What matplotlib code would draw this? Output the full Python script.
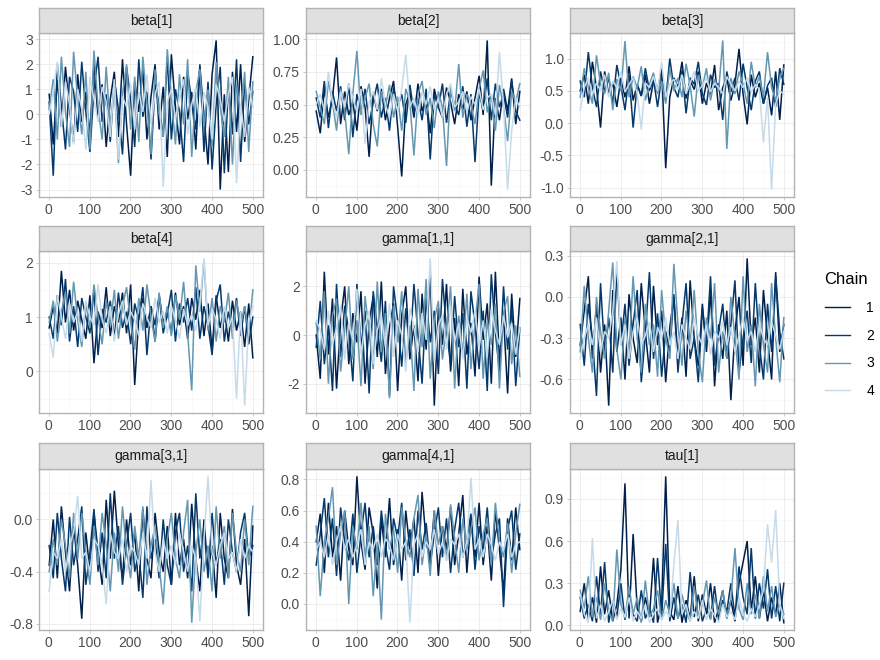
import matplotlib.pyplot as plt
from matplotlib.lines import Line2D
import numpy as np

plt.rcParams['font.family'] = ['Liberation Sans', 'DejaVu Sans']
plt.rcParams['axes.unicode_minus'] = False

# chain colours (1 = darkest ... 4 = lightest)
chain_names = ['1', '2', '3', '4']
chain_colors = ['#011f4b', '#03396c', '#6497b1', '#c6dbea']

# traces, one value about every 10 iterations
beta1 = [
    [0.8, -1.2, 1.4, -0.5, 1.9, 0.2, -1.1, 1.6, -0.3, 0.9, -0.8, 2.1, -0.2, 1.2, -1.3, 0.6, 1.7, -0.9, 2.2, -0.4, -2.45, 1.3, 0.1, 1.8, -1.0, 0.7, 2.0, -0.6, 1.1, -1.7, 2.4, 0.3, -1.2, 1.5, -0.2, 0.9, -1.4, 1.9, 0.0, -2.0, 1.6, 2.95, -3.0, 0.8, -2.3, 1.7, -0.7, 2.0, -1.1, 0.6, 2.3],
    [0.5, -2.45, 2.0, 0.3, -1.4, 1.5, 0.9, -0.7, 2.1, 0.1, -1.5, 1.0, 2.3, -0.3, 0.8, -1.1, 1.4, 0.2, -1.6, 1.9, 0.6, -1.3, 2.2, -0.1, 0.9, -1.8, 1.2, 0.4, -0.9, 2.3, -1.0, 1.0, 0.1, -1.9, 1.7, 0.5, -0.6, 2.0, -1.5, 1.3, -2.2, 0.4, 1.9, -2.35, 1.1, -0.8, 2.2, -1.9, 1.3, -0.4, 0.9],
    [0.2, 1.4, -1.0, 2.3, 0.1, -1.3, 2.5, 0.6, -0.8, 1.7, -1.4, 2.55, 0.3, -1.0, 1.9, -0.5, 1.2, -1.95, 0.8, 2.0, -0.6, 1.5, -1.1, 2.3, 0.4, -1.6, 1.8, 0.0, -0.9, 2.6, 0.7, -1.2, 1.6, -0.4, 2.2, -1.7, 0.9, 1.8, -0.5, 1.0, -1.3, 2.1, 0.3, -0.9, 1.5, -2.0, 1.2, 0.0, 1.7, -1.5, 1.3],
    [0.0, 0.9, 2.1, -0.5, 1.3, 0.4, -1.2, 1.0, 0.2, -1.4, 1.5, 0.6, -0.3, 1.1, 0.5, -0.9, 1.4, -1.8, 0.7, 0.3, 1.2, -0.6, 0.9, 0.1, 1.6, -0.4, 0.8, 1.3, -2.9, 0.5, 1.0, -0.2, 0.7, 1.4, -0.8, 0.4, 1.1, -0.5, 0.9, 0.3, -1.0, 1.2, 0.6, -0.3, 0.8, 1.5, -2.75, 0.4, -0.9, 1.1, 0.3],
]
beta2 = [
    [0.45, 0.28, 0.62, 0.40, 0.55, 0.86, 0.35, 0.60, 0.42, 0.52, 0.30, 0.64, 0.48, 0.10, 0.58, 0.45, 0.62, 0.38, 0.55, 0.68, 0.33, -0.05, 0.50, 0.60, 0.40, 0.66, 0.45, 0.55, 0.28, 0.62, 0.48, 0.40, 0.63, 0.52, 0.35, 0.58, 0.46, 0.60, 0.38, 0.55, 0.72, 0.42, 0.99, -0.12, 0.55, 0.38, 0.62, 0.45, 0.70, 0.35, 0.60],
    [0.55, 0.40, 0.68, 0.32, 0.60, 0.45, 0.64, 0.38, 0.66, 0.25, 0.58, 0.44, 0.62, 0.35, 0.52, 0.66, 0.40, 0.55, 0.30, 0.63, 0.48, 0.58, 0.36, 0.65, 0.44, 0.55, 0.38, 0.62, 0.08, 0.58, 0.47, 0.66, 0.36, 0.60, 0.50, 0.42, 0.64, 0.33, 0.58, 0.06, 0.60, 0.45, 0.70, 0.38, 0.66, 0.48, 0.58, 0.40, 0.68, 0.45, 0.38],
    [0.60, 0.48, 0.35, 0.68, 0.52, 0.30, 0.62, 0.45, 0.12, 0.58, 0.91, 0.42, 0.55, 0.66, 0.35, 0.18, 0.60, 0.48, 0.65, 0.40, 0.56, 0.30, 0.62, 0.52, 0.11, 0.58, 0.68, 0.42, 0.55, 0.32, 0.60, 0.48, 0.03, 0.64, 0.45, 0.81, 0.40, 0.58, 0.50, 0.35, 0.62, 0.76, 0.44, 0.58, 0.30, 0.65, 0.48, 0.22, 0.60, 0.52, 0.66],
    [0.50, 0.58, 0.45, 0.75, 0.52, 0.40, 0.60, 0.48, 0.66, 0.55, 0.44, 0.62, 0.20, 0.52, 0.60, 0.46, 0.70, 0.50, 0.40, 0.58, 0.45, 0.62, 0.88, 0.48, 0.55, 0.42, 0.60, 0.50, 0.64, 0.46, 0.55, 0.40, 0.58, 0.66, 0.48, 0.52, 0.60, 0.44, 0.56, 0.50, 0.62, 0.46, 0.55, 0.58, 0.42, 0.90, 0.50, -0.15, 0.30, 0.55, 0.48],
]
beta3 = [
    [0.50, 0.75, 0.30, 0.95, 0.55, -0.07, 0.80, 0.45, 0.62, 0.25, 0.70, 0.40, 0.88, 0.35, 0.60, 0.42, 0.75, 0.30, 0.65, 0.50, 0.85, -0.70, 0.40, 0.70, 0.55, 0.95, 0.38, 0.66, 0.52, 0.80, 0.30, 0.62, 0.45, 0.90, 0.20, 0.55, 0.70, 0.35, 0.60, 1.15, 0.45, -0.02, 0.75, 0.40, 0.62, 0.30, 0.55, 0.12, 0.80, 0.05, 0.90],
    [0.65, 0.40, 1.10, 0.55, 0.25, 0.80, 0.48, 0.70, 0.30, 0.90, 0.58, 0.20, 0.75, -0.07, 0.60, 0.42, 0.85, 0.50, 0.68, 0.25, 0.72, 0.35, 1.00, 0.55, 0.40, 0.82, 0.15, 0.70, 0.60, 0.95, 0.45, 0.28, 0.75, 0.55, 0.62, 0.05, 0.80, 0.48, 0.70, 0.35, 0.92, 0.55, 0.20, 0.65, 0.80, 0.30, 0.58, 0.70, 0.25, 0.85, 0.60],
    [0.40, 0.85, 0.55, 0.30, 1.05, 0.60, 0.45, 0.78, 0.20, 0.68, 0.50, 1.27, 0.40, 0.72, 0.55, 0.88, 0.35, 0.60, 0.78, 0.45, 0.65, 0.30, 0.85, 0.50, 0.70, 0.40, 0.92, 0.58, 0.10, 0.75, 0.55, 0.85, 0.35, 0.68, 0.50, 1.28, -0.40, 0.70, 0.45, 0.80, 0.60, 0.30, 0.95, 0.55, 0.72, 0.40, 1.10, 0.55, 0.35, 0.70, 0.85],
    [0.20, 0.55, 0.70, 0.45, 0.62, 0.50, 0.75, 0.40, 0.65, 0.55, 0.80, 0.48, 0.60, 0.70, 0.45, -0.10, 0.62, 0.55, 0.72, 0.50, 0.95, 0.40, 0.60, 0.68, 0.52, 0.75, 0.45, 0.62, 0.80, 0.50, 0.58, 0.70, 0.48, 0.62, 0.55, 0.45, 0.72, 0.60, 0.50, 0.65, 0.55, 0.70, 0.48, 0.60, 0.52, -0.30, 0.40, -1.03, 0.30, 0.50, 0.45],
]
beta4 = [
    [0.80, 1.20, 0.70, 1.85, 0.90, 1.50, 0.75, 1.30, 0.95, 0.60, 1.40, 0.15, 1.10, 0.80, 1.55, 0.65, 1.20, 0.90, 1.45, 0.70, 1.60, -0.25, 1.00, 1.35, 0.80, 1.20, 0.55, 1.40, 0.90, 1.10, 0.70, 1.45, 0.85, 1.20, 0.60, 1.35, 0.95, 1.50, 0.65, 1.25, 0.40, 1.40, 0.80, 1.15, 0.55, 1.30, 0.75, 1.10, 0.45, 1.25, 0.25],
    [1.00, 0.60, 1.40, 0.85, 1.70, 0.55, 1.20, 0.45, 1.35, 1.00, 0.70, 1.50, 0.30, 1.15, 0.90, 1.30, 0.60, 1.45, 0.80, 1.10, 0.50, 1.25, 0.95, 1.55, 0.30, 1.20, 0.85, 1.40, 0.70, 1.05, 1.50, 0.55, 1.25, 0.90, 1.35, 0.75, 1.55, 0.60, 1.20, 0.85, 0.30, 1.30, 1.60, 0.55, 1.10, 0.80, 1.35, 0.65, 1.20, 0.50, 1.00],
    [0.90, 1.30, 0.55, 1.10, 1.45, 0.70, 1.65, 0.95, 0.45, 1.25, 0.80, 1.60, 1.00, 0.50, 1.30, 0.85, 1.50, 0.60, 1.20, 1.55, 0.90, 0.40, 1.35, 0.75, 1.60, 1.00, 0.55, 1.45, 0.80, 1.20, 0.65, 1.40, 0.95, 1.65, 0.70, -0.35, 1.95, 1.10, 2.05, 0.75, 1.35, 0.55, 1.20, 0.90, 1.45, 0.60, 1.30, 0.85, 1.20, 0.70, 1.50],
    [0.70, 0.25, 1.40, 1.00, 0.60, 1.25, 0.90, 1.10, 0.55, 1.30, 1.00, 0.85, 1.60, 0.95, 0.70, 1.20, 0.55, 1.05, 1.30, 0.85, 1.10, 0.95, 0.65, 1.25, 1.00, 0.80, 1.35, 0.90, 1.10, 0.70, 1.20, 0.95, 0.60, 1.15, 0.85, 1.05, 0.75, 1.25, 2.08, 0.85, 1.15, 0.95, 0.60, 1.20, 0.80, 1.00, -0.50, 1.10, -0.63, 0.90, 1.20],
]
gamma11 = [
    [0.0, -1.8, 2.6, -0.8, 1.5, -2.2, 0.6, 2.0, -1.2, 0.9, -0.3, 1.8, -2.0, 0.5, 1.6, -0.9, 2.2, -1.6, 0.3, 1.3, -2.3, 0.8, 2.0, -1.0, 0.4, -1.9, 1.7, -0.6, 2.7, -2.9, 1.1, -0.4, 2.1, -1.5, 0.7, -2.1, 1.9, -0.8, 0.5, -1.7, 2.4, -0.2, 1.3, -2.0, 2.6, -1.1, 0.8, -2.4, 1.7, -0.9, 1.5],
    [-0.5, 1.4, -1.2, 0.4, -2.3, 2.1, -0.9, 1.2, 0.2, -1.9, 2.1, -0.5, 1.0, -2.4, 1.8, 0.3, -1.1, 1.4, -2.5, 2.0, 0.6, -1.3, 1.1, -0.7, 2.1, 0.0, -2.0, 1.5, -0.3, 1.0, -1.6, 2.3, 0.2, -1.2, 1.6, -0.5, 0.9, -2.2, 1.8, 0.4, -1.4, 1.0, -2.3, 2.5, 0.1, -1.5, 2.0, -0.6, 1.1, -2.1, 0.3],
    [0.5, -1.0, 1.8, -2.0, 0.8, 1.5, -1.5, 0.2, 2.0, -1.0, 0.6, -2.1, 1.6, 0.1, -1.4, 2.2, -0.7, 0.9, -2.6, 1.2, -0.3, 1.8, -1.2, 0.4, -2.3, 1.9, -0.5, 2.3, -1.8, 0.6, 1.4, -1.0, 0.3, 2.0, -2.2, 0.8, -0.8, 1.7, -1.4, 0.5, 2.1, -1.8, 0.6, -0.4, 1.3, -2.2, 0.9, 1.6, -1.2, 0.4, -1.7],
    [0.6, 0.2, -0.6, 1.0, -0.4, 0.3, 1.2, -1.0, 0.5, -0.2, 1.9, -0.8, 0.4, 1.0, -1.2, 0.2, 0.8, -0.5, 1.3, -0.9, 0.6, 0.0, -1.5, 1.1, 0.3, -0.7, 0.9, -0.2, 3.15, -1.1, 0.4, 0.8, -0.6, 1.2, -0.3, 0.5, -1.0, 0.7, 0.1, 1.0, -0.5, 0.6, -0.9, 1.1, 0.2, -0.4, 0.8, -0.1, 0.5, -0.8, 0.3],
]
gamma21 = [
    [-0.35, -0.10, 0.15, -0.45, -0.05, -0.55, -0.20, -0.79, 0.05, -0.40, -0.15, -0.60, 0.02, -0.30, -0.48, 0.10, -0.25, -0.55, 0.08, -0.35, -0.10, -0.62, -0.22, 0.00, -0.45, -0.15, -0.58, 0.12, -0.30, -0.50, -0.05, -0.40, 0.05, -0.65, -0.20, -0.45, -0.10, -0.75, -0.25, 0.00, -0.50, 0.28, -0.35, -0.15, -0.55, 0.05, -0.30, -0.60, 0.18, -0.40, -0.20],
    [-0.20, -0.50, -0.05, -0.30, -0.72, 0.10, -0.40, -0.15, -0.55, 0.20, -0.35, -0.05, -0.50, -0.20, 0.05, -0.62, -0.28, 0.18, -0.45, -0.12, -0.58, -0.25, -0.40, 0.02, -0.55, -0.20, 0.10, -0.45, -0.30, -0.62, -0.08, -0.35, 0.15, -0.50, -0.25, -0.05, -0.45, -0.20, 0.12, -0.55, -0.30, -0.10, -0.48, 0.10, -0.35, -0.60, -0.05, -0.40, 0.15, -0.25, -0.45],
    [-0.40, 0.08, -0.30, -0.55, 0.00, -0.25, -0.45, -0.10, 0.25, -0.38, -0.60, -0.15, -0.42, 0.15, -0.30, -0.55, -0.05, -0.35, -0.20, -0.58, 0.05, -0.30, -0.45, 0.24, -0.20, -0.50, -0.10, -0.35, 0.05, -0.40, -0.62, -0.15, -0.30, 0.10, -0.55, -0.25, -0.45, 0.00, -0.30, -0.60, 0.15, -0.40, -0.20, -0.65, -0.05, -0.35, -0.55, 0.10, -0.30, -0.62, -0.15],
    [-0.45, -0.30, -0.20, -0.35, -0.15, -0.40, -0.25, -0.30, -0.10, 0.26, -0.35, -0.20, -0.45, -0.25, -0.15, -0.35, -0.28, -0.18, -0.40, -0.22, -0.30, -0.15, -0.35, -0.25, -0.45, -0.20, -0.30, -0.38, -0.15, -0.28, -0.35, -0.20, -0.42, -0.25, -0.30, -0.18, -0.35, -0.22, -0.40, -0.28, -0.15, -0.32, -0.25, -0.40, -0.20, -0.30, -0.35, -0.18, -0.28, -0.38, -0.25],
]
gamma31 = [
    [-0.35, 0.00, -0.45, 0.10, -0.25, -0.55, -0.05, -0.35, -0.76, -0.10, -0.40, 0.05, -0.25, -0.50, 0.15, -0.30, 0.22, -0.20, -0.45, 0.00, -0.35, -0.10, -0.55, 0.08, -0.30, -0.45, 0.05, -0.25, -0.40, -0.05, -0.50, 0.05, -0.35, -0.15, -0.45, 0.12, -0.30, -0.55, 0.00, -0.40, -0.20, -0.60, 0.05, -0.30, -0.45, 0.08, -0.35, -0.50, -0.15, -0.74, -0.05],
    [-0.20, -0.45, 0.05, -0.30, -0.55, 0.02, -0.35, -0.15, 0.10, -0.50, -0.25, 0.08, -0.40, -0.10, -0.45, 0.20, -0.30, -0.05, -0.50, -0.20, 0.05, -0.40, -0.25, -0.60, 0.10, -0.30, -0.15, -0.45, 0.00, -0.35, -0.50, -0.10, 0.05, -0.40, -0.20, -0.55, 0.20, -0.30, -0.05, -0.45, 0.05, -0.35, -0.15, -0.50, 0.00, -0.25, -0.40, -0.10, 0.05, -0.30, -0.20],
    [-0.40, -0.15, -0.35, 0.00, -0.20, -0.45, 0.05, -0.30, 0.05, -0.25, -0.50, -0.05, -0.35, 0.05, -0.20, -0.55, -0.10, -0.40, 0.10, -0.25, -0.45, -0.05, -0.30, 0.10, -0.50, -0.20, -0.05, -0.35, -0.65, -0.15, 0.05, -0.30, -0.45, -0.10, 0.15, -0.79, -0.25, 0.00, -0.40, -0.20, -0.55, 0.10, -0.30, -0.05, -0.45, 0.05, -0.25, -0.40, 0.00, -0.35, 0.10],
    [-0.55, -0.25, -0.30, -0.15, -0.40, -0.20, -0.10, 0.18, -0.30, -0.25, -0.40, -0.15, -0.20, -0.35, -0.65, -0.10, -0.25, -0.30, -0.15, -0.40, -0.20, -0.25, -0.35, -0.10, -0.30, 0.30, -0.25, -0.40, -0.15, -0.30, -0.20, -0.35, -0.10, -0.25, -0.40, -0.20, -0.30, -0.78, -0.15, 0.33, -0.25, -0.35, -0.20, -0.10, -0.30, -0.25, -0.40, -0.15, -0.30, -0.20, -0.25],
]
gamma41 = [
    [0.40, 0.58, 0.20, 0.65, 0.30, 0.50, 0.15, 0.60, 0.35, 0.25, 0.82, 0.40, 0.22, 0.62, 0.45, 0.10, 0.55, 0.30, 0.68, 0.25, 0.48, 0.15, 0.60, 0.35, 0.55, 0.20, 0.72, 0.40, 0.28, 0.60, 0.18, 0.50, 0.35, 0.62, 0.25, 0.45, 0.70, 0.20, 0.55, 0.30, 0.65, 0.25, 0.50, 0.15, 0.60, 0.35, 0.08, 0.55, 0.28, 0.62, 0.35],
    [0.25, 0.45, 0.68, 0.30, 0.55, 0.18, 0.62, 0.40, 0.28, 0.58, 0.20, 0.45, 0.65, 0.30, 0.50, 0.25, 0.60, 0.38, 0.22, 0.55, 0.42, 0.65, 0.28, 0.48, 0.18, 0.60, 0.35, 0.52, 0.25, 0.45, 0.62, 0.30, 0.55, 0.20, 0.48, 0.65, 0.30, 0.42, 0.58, 0.22, 0.50, 0.35, 0.62, 0.28, 0.45, 0.55, -0.02, 0.48, 0.60, 0.22, 0.45],
    [0.50, 0.05, 0.40, 0.55, 0.75, 0.25, 0.45, 0.60, 0.00, 0.50, 0.35, 0.65, 0.28, 0.50, 0.05, 0.40, -0.10, 0.58, 0.35, 0.48, 0.20, 0.62, 0.40, 0.30, 0.55, 0.70, 0.25, 0.45, 0.18, 0.60, 0.38, 0.50, 0.28, 0.64, 0.42, 0.20, 0.55, 0.35, 0.48, 0.62, 0.28, 0.45, 0.55, 0.25, 0.65, 0.40, 0.30, 0.52, 0.20, 0.45, 0.64],
    [0.35, 0.40, 0.30, 0.45, 0.25, 0.40, 0.50, 0.35, 0.42, 0.30, 0.38, 0.48, 0.25, 0.40, 0.35, 0.45, 0.30, 0.42, 0.38, 0.28, 0.45, 0.35, 0.40, -0.12, 0.38, 0.45, 0.30, 0.40, 0.35, 0.48, 0.32, 0.40, 0.28, 0.42, 0.38, 0.45, 0.30, 0.40, 0.81, 0.35, 0.42, 0.30, 0.45, 0.38, 0.28, 0.40, 0.35, 0.45, 0.30, 0.38, 0.40],
]
tau1 = [
    [0.10, 0.30, 0.05, 0.20, 0.02, 0.42, 0.08, 0.25, 0.03, 0.15, 0.40, 1.01, 0.05, 0.65, 0.12, 0.03, 0.20, 0.06, 0.48, 0.02, 0.15, 1.06, 0.10, 0.04, 0.28, 0.02, 0.18, 0.05, 0.35, 0.03, 0.22, 0.08, 0.30, 0.02, 0.12, 0.25, 0.05, 0.18, 0.03, 0.30, 0.45, 0.60, 0.10, 0.35, 0.05, 0.25, 0.03, 0.20, 0.08, 0.30, 0.02],
    [0.20, 0.05, 0.15, 0.03, 0.35, 0.08, 0.45, 0.02, 0.18, 0.06, 0.30, 0.04, 0.22, 0.08, 0.03, 0.25, 0.05, 0.12, 0.02, 0.48, 0.06, 0.58, 0.03, 0.20, 0.05, 0.15, 0.02, 0.38, 0.06, 0.22, 0.03, 0.12, 0.05, 0.28, 0.04, 0.18, 0.10, 0.30, 0.06, 0.42, 0.20, 0.08, 0.55, 0.05, 0.30, 0.12, 0.40, 0.05, 0.28, 0.03, 0.30],
    [0.25, 0.12, 0.35, 0.06, 0.20, 0.04, 0.30, 0.10, 0.03, 0.54, 0.15, 0.05, 0.28, 0.08, 0.20, 0.02, 0.32, 0.06, 0.12, 0.25, 0.04, 0.18, 0.08, 0.30, 0.05, 0.22, 0.10, 0.03, 0.28, 0.06, 0.15, 0.32, 0.04, 0.20, 0.08, 0.25, 0.05, 0.18, 0.55, 0.12, 0.04, 0.30, 0.08, 0.22, 0.05, 0.35, 0.10, 0.28, 0.06, 0.15, 0.08],
    [0.22, 0.08, 0.02, 0.62, 0.05, 0.15, 0.03, 0.10, 0.18, 0.04, 0.12, 0.06, 0.20, 0.03, 0.10, 0.05, 0.15, 0.02, 0.08, 0.12, 0.04, 0.10, 0.06, 0.43, 0.75, 0.08, 0.15, 0.03, 0.10, 0.05, 0.18, 0.04, 0.12, 0.07, 0.02, 0.15, 0.06, 0.10, 0.04, 0.20, 0.08, 0.03, 0.12, 0.06, 0.15, 0.25, 0.72, 0.45, 0.82, 0.15, 0.05],
]

params = ['beta[1]', 'beta[2]', 'beta[3]', 'beta[4]', 'gamma[1,1]',
          'gamma[2,1]', 'gamma[3,1]', 'gamma[4,1]', 'tau[1]']
traces = [beta1, beta2, beta3, beta4, gamma11, gamma21, gamma31, gamma41, tau1]
yticks = [[-3, -2, -1, 0, 1, 2, 3], [0, 0.25, 0.5, 0.75, 1.0], [-1, -0.5, 0, 0.5, 1],
          [0, 1, 2], [-2, 0, 2], [-0.6, -0.3, 0, 0.3], [-0.8, -0.4, 0],
          [0, 0.2, 0.4, 0.6, 0.8], [0, 0.3, 0.6, 0.9]]
ydecimals = [0, 2, 1, 0, 0, 1, 1, 1, 1]
xticks = [0, 100, 200, 300, 400, 500]
n_iter = 500

W, H = 880, 660
fig = plt.figure(figsize=(W / 100, H / 100), dpi=100)

col_left = [39, 306, 570]
col_width = 224
row_strip_top = [8, 226, 443]
row_strip_bot = [33, 251, 469]
row_bottom = [197, 413, 630]

grid_major = '#ebebeb'
grid_minor = '#f5f5f5'
border = '#b3b3b3'


def minor_of(ticks, lo, hi):
    step = ticks[1] - ticks[0]
    m = [t + step / 2 for t in ([ticks[0] - step] + list(ticks))]
    return [v for v in m if lo <= v <= hi]


for k, (name, chains) in enumerate(zip(params, traces)):
    r, c = divmod(k, 3)
    left = col_left[c]
    ax = fig.add_axes([left / W, 1 - row_bottom[r] / H, col_width / W,
                       (row_bottom[r] - row_strip_bot[r]) / H])
    st = fig.add_axes([left / W, 1 - row_strip_bot[r] / H, col_width / W,
                       (row_strip_bot[r] - row_strip_top[r]) / H])

    for ch, col in zip(chains, chain_colors):
        it = np.linspace(1, n_iter, len(ch))
        ax.plot(it, ch, color=col, lw=1.1, solid_joinstyle='miter')

    allv = np.concatenate([np.array(ch) for ch in chains])
    lo, hi = allv.min(), allv.max()
    pad = (hi - lo) * 0.05
    ax.set_ylim(lo - pad, hi + pad)
    ax.set_xlim(1 - 0.05 * (n_iter - 1), n_iter + 0.05 * (n_iter - 1))

    ax.set_xticks(xticks)
    ax.set_xticklabels([str(v) for v in xticks])
    ax.set_yticks(yticks[k])
    ax.set_yticklabels([f'{v:.{ydecimals[k]}f}' for v in yticks[k]])
    ax.set_xticks(minor_of(xticks, *ax.get_xlim()), minor=True)
    ax.set_yticks(minor_of(yticks[k], *ax.get_ylim()), minor=True)

    ax.grid(which='major', color=grid_major, lw=0.6)
    ax.grid(which='minor', color=grid_minor, lw=0.4)
    ax.set_axisbelow(True)
    ax.tick_params(which='major', length=2.5, width=0.5, color=border,
                   labelsize=10, labelcolor='#4d4d4d', pad=2)
    ax.tick_params(which='minor', length=0)
    for s in ax.spines.values():
        s.set_color(border)
        s.set_linewidth(1.0)

    st.set_facecolor('#e0e0e0')
    st.set_xticks([])
    st.set_yticks([])
    for s in st.spines.values():
        s.set_color(border)
        s.set_linewidth(1.0)
    st.text(0.5, 0.5, name, ha='center', va='center', fontsize=10,
            color='#1a1a1a', transform=st.transAxes)

handles = [Line2D([], [], color=col, lw=1.0) for col in chain_colors]
leg = fig.legend(handles, chain_names, title='Chain', loc='center left',
                 bbox_to_anchor=(812 / W, 1 - 335 / H), frameon=False,
                 fontsize=10, title_fontsize=12, handlelength=1.8,
                 labelspacing=1.0, handletextpad=1.2)
leg._legend_box.align = 'left'

fig.savefig('out.png', dpi=100)
